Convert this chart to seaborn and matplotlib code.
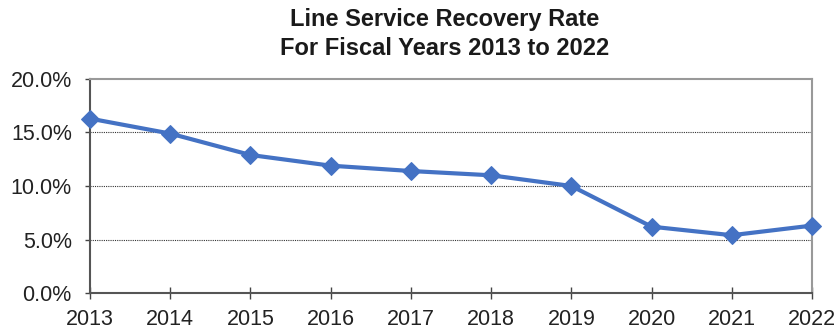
import matplotlib
matplotlib.use("Agg")
import matplotlib.pyplot as plt
import seaborn as sns
import pandas as pd
from matplotlib.ticker import FuncFormatter

years = [2013, 2014, 2015, 2016, 2017, 2018, 2019, 2020, 2021, 2022]
recovery_rate = [16.3, 14.9, 12.9, 11.9, 11.4, 11.0, 10.0, 6.2, 5.4, 6.3]
y_ticks = [0, 5, 10, 15, 20]

sns.set_theme(style="white")
plt.rcParams["font.family"] = ["Liberation Sans", "DejaVu Sans"]

df = pd.DataFrame({"Year": years, "Rate": recovery_rate})

fig = plt.figure(figsize=(8.39, 3.31), dpi=100)
ax = fig.add_axes([90 / 839, 38 / 331, 722 / 839, 214 / 331])

for y in y_ticks[1:-1]:
    ax.axhline(y, color="#333333", linestyle=(0, (1, 1)), linewidth=0.8, zorder=1)

sns.lineplot(data=df, x="Year", y="Rate", ax=ax, color="#4472C4", linewidth=3,
             marker="D", markersize=9, markeredgecolor="#4472C4", zorder=3, clip_on=False)

ax.set_xlim(years[0], years[-1])
ax.set_ylim(0, 20)
ax.set_xticks(years)
ax.set_yticks(y_ticks)
ax.yaxis.set_major_formatter(FuncFormatter(lambda v, p: f"{v:.1f}%"))
ax.set_xlabel("")
ax.set_ylabel("")
ax.tick_params(axis="both", labelsize=15.5, labelcolor="#222222", color="#444444",
               width=1, bottom=True, left=True)
ax.tick_params(axis="x", direction="inout", length=9, pad=7)
ax.tick_params(axis="y", direction="out", length=3.6, pad=9.5)

for side in ["left", "bottom"]:
    ax.spines[side].set_color("#555555")
    ax.spines[side].set_linewidth(1.5)
for side in ["top", "right"]:
    ax.spines[side].set_color("#999999")
    ax.spines[side].set_linewidth(1.5)

fig.text(445 / 839, 1 - 34 / 331, "Line Service Recovery Rate\nFor Fiscal Years 2013 to 2022",
         ha="center", va="center", fontsize=17, fontweight="bold", color="#1a1a1a",
         linespacing=1.3)

fig.savefig("out.png", dpi=100)
